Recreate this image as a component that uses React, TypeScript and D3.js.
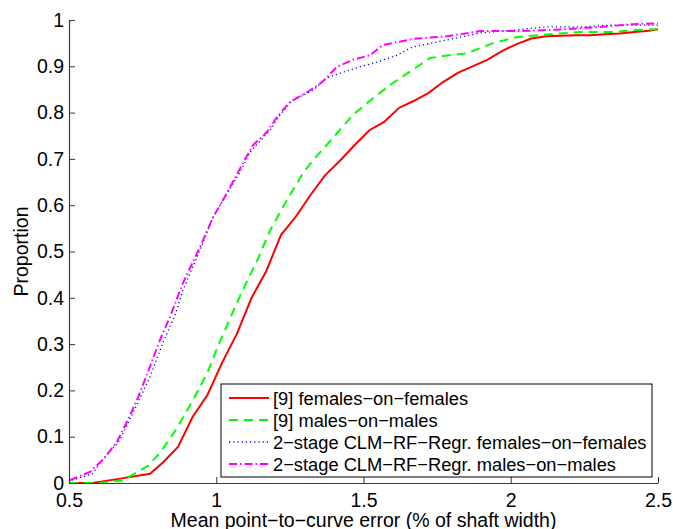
import { useEffect, useRef } from "react"
import * as d3 from "d3"

// curves: [error, proportion]
const redF: [number, number][] = [
  [0.5, 0], [0.58, 0], [0.68, 0.01], [0.775, 0.02], [0.82, 0.045], [0.87, 0.078],
  [0.92, 0.143], [0.97, 0.19], [1.02, 0.26], [1.07, 0.322], [1.12, 0.4], [1.17, 0.458],
  [1.22, 0.536], [1.27, 0.575], [1.32, 0.622], [1.37, 0.665], [1.42, 0.696], [1.47, 0.73],
  [1.52, 0.762], [1.57, 0.78], [1.62, 0.81], [1.67, 0.825], [1.72, 0.842], [1.77, 0.866],
  [1.82, 0.886], [1.87, 0.9], [1.92, 0.914], [1.97, 0.933], [2.02, 0.948], [2.07, 0.96],
  [2.12, 0.965], [2.17, 0.966], [2.22, 0.967], [2.27, 0.967], [2.32, 0.969], [2.37, 0.971],
  [2.42, 0.974], [2.47, 0.977], [2.5, 0.98],
]
const greenM: [number, number][] = [
  [0.5, 0], [0.6, 0], [0.683, 0.006], [0.768, 0.037], [0.809, 0.065], [0.867, 0.119],
  [0.921, 0.179], [0.969, 0.237], [1.01, 0.302], [1.05, 0.36], [1.09, 0.417], [1.14, 0.482],
  [1.183, 0.546], [1.24, 0.611], [1.295, 0.67], [1.33, 0.698], [1.396, 0.745], [1.464, 0.795],
  [1.546, 0.838], [1.6, 0.864], [1.64, 0.881], [1.68, 0.898], [1.726, 0.918], [1.79, 0.924],
  [1.85, 0.928], [1.94, 0.95], [2.02, 0.963], [2.143, 0.97], [2.235, 0.974], [2.35, 0.974],
  [2.415, 0.978], [2.5, 0.98],
]
const blueF: [number, number][] = [
  [0.51, 0.006], [0.58, 0.02], [0.605, 0.043], [0.673, 0.093], [0.775, 0.229], [0.82, 0.305],
  [0.86, 0.362], [0.887, 0.417], [0.935, 0.488], [0.99, 0.575], [1.037, 0.626], [1.08, 0.67],
  [1.115, 0.715], [1.183, 0.762], [1.216, 0.795], [1.26, 0.827], [1.33, 0.849], [1.376, 0.875],
  [1.42, 0.885], [1.488, 0.899], [1.546, 0.909], [1.614, 0.924], [1.668, 0.942], [1.784, 0.957],
  [1.896, 0.972], [2.007, 0.978], [2.12, 0.985], [2.235, 0.985], [2.347, 0.989], [2.5, 0.989],
]
const magentaM: [number, number][] = [
  [0.503, 0.006], [0.571, 0.024], [0.615, 0.05], [0.663, 0.089], [0.7, 0.136], [0.734, 0.184],
  [0.768, 0.24], [0.809, 0.309], [0.843, 0.359], [0.887, 0.432], [0.945, 0.51], [0.99, 0.575],
  [1.036, 0.626], [1.09, 0.69], [1.125, 0.73], [1.172, 0.758], [1.206, 0.79], [1.25, 0.823],
  [1.308, 0.844], [1.36, 0.866], [1.41, 0.899], [1.464, 0.914], [1.522, 0.924], [1.566, 0.946],
  [1.668, 0.959], [1.784, 0.965], [1.896, 0.976], [2.03, 0.976], [2.19, 0.98], [2.3, 0.985],
  [2.415, 0.991], [2.5, 0.993],
]

const xTicks = [0.5, 1, 1.5, 2, 2.5]
const yTicks = [0, 0.1, 0.2, 0.3, 0.4, 0.5, 0.6, 0.7, 0.8, 0.9, 1]
const legendLabels = [
  "[9] females−on−females",
  "[9] males−on−males",
  "2−stage CLM−RF−Regr. females−on−females",
  "2−stage CLM−RF−Regr. males−on−males",
]

const W = 673, H = 529
const margin = { left: 69, right: 15, top: 20, bottom: 46 }
const font = "'Liberation Sans', Arial, sans-serif"

export default function App() {
  const ref = useRef<SVGSVGElement>(null)

  useEffect(() => {
    const svg = d3.select(ref.current)
    svg.selectAll("*").remove()

    const x = d3.scaleLinear().domain([0.5, 2.5]).range([margin.left, W - margin.right])
    const y = d3.scaleLinear().domain([0, 1]).range([H - margin.bottom, margin.top])

    const series = [
      { data: redF, color: "#ff0000", dash: null, width: 2 },
      { data: greenM, color: "#00ff00", dash: "9,6", width: 2 },
      { data: blueF, color: "#0000ff", dash: "1.2,3", width: 1.3 },
      { data: magentaM, color: "#ff00ff", dash: "8,3,1.5,3", width: 2 },
    ]

    const line = d3.line<[number, number]>().x(d => x(d[0])).y(d => y(d[1]))

    series.forEach(s => {
      svg.append("path")
        .attr("d", line(s.data))
        .attr("fill", "none")
        .attr("stroke", s.color)
        .attr("stroke-width", s.width)
        .attr("stroke-dasharray", s.dash)
    })

    // axes, ticks point inward like matlab
    const axisColor = "#3a3a3a"
    const xAxis = svg.append("g").attr("transform", `translate(0,${y(0)})`)
      .call(d3.axisBottom(x).tickValues(xTicks).tickSizeInner(-6).tickSizeOuter(0).tickFormat(d => String(d)))
    const yAxis = svg.append("g").attr("transform", `translate(${x(0.5)},0)`)
      .call(d3.axisLeft(y).tickValues(yTicks).tickSizeInner(-6).tickSizeOuter(0).tickPadding(5).tickFormat(d => String(d)))
    ;[xAxis, yAxis].forEach(g => {
      g.select(".domain").attr("stroke", axisColor).attr("stroke-width", 1.2)
      g.selectAll(".tick line").attr("stroke", axisColor).attr("stroke-width", 1)
      g.selectAll(".tick text").attr("fill", "#000").attr("font-size", 19.5).attr("font-family", font)
    })
    xAxis.selectAll(".tick text").attr("y", 24).attr("dy", 0)

    svg.append("text")
      .attr("x", (x(0.5) + x(2.5)) / 2).attr("y", 527)
      .attr("text-anchor", "middle").attr("font-size", 19.5).attr("font-family", font)
      .text("Mean point−to−curve error (% of shaft width)")
    svg.append("text")
      .attr("transform", `translate(28,${y(0.5)}) rotate(-90)`)
      .attr("text-anchor", "middle").attr("font-size", 19.5).attr("font-family", font)
      .text("Proportion")

    // legend
    const lg = svg.append("g").attr("transform", "translate(221,384)")
    lg.append("rect").attr("width", 431).attr("height", 93)
      .attr("fill", "#fff").attr("stroke", "#000").attr("stroke-width", 1)
    series.forEach((s, i) => {
      const cy = 14 + i * 22
      lg.append("line").attr("x1", 8).attr("x2", 48).attr("y1", cy).attr("y2", cy)
        .attr("stroke", s.color).attr("stroke-width", s.width).attr("stroke-dasharray", s.dash)
      lg.append("text").attr("x", 52).attr("y", cy).attr("dy", "0.36em")
        .attr("font-size", 18.3).attr("font-family", font).text(legendLabels[i])
    })
  }, [])

  return (
    <svg ref={ref} width={W} height={H}
      style={{ position: "absolute", left: 0, top: 0, background: "#fff" }} />
  )
}
